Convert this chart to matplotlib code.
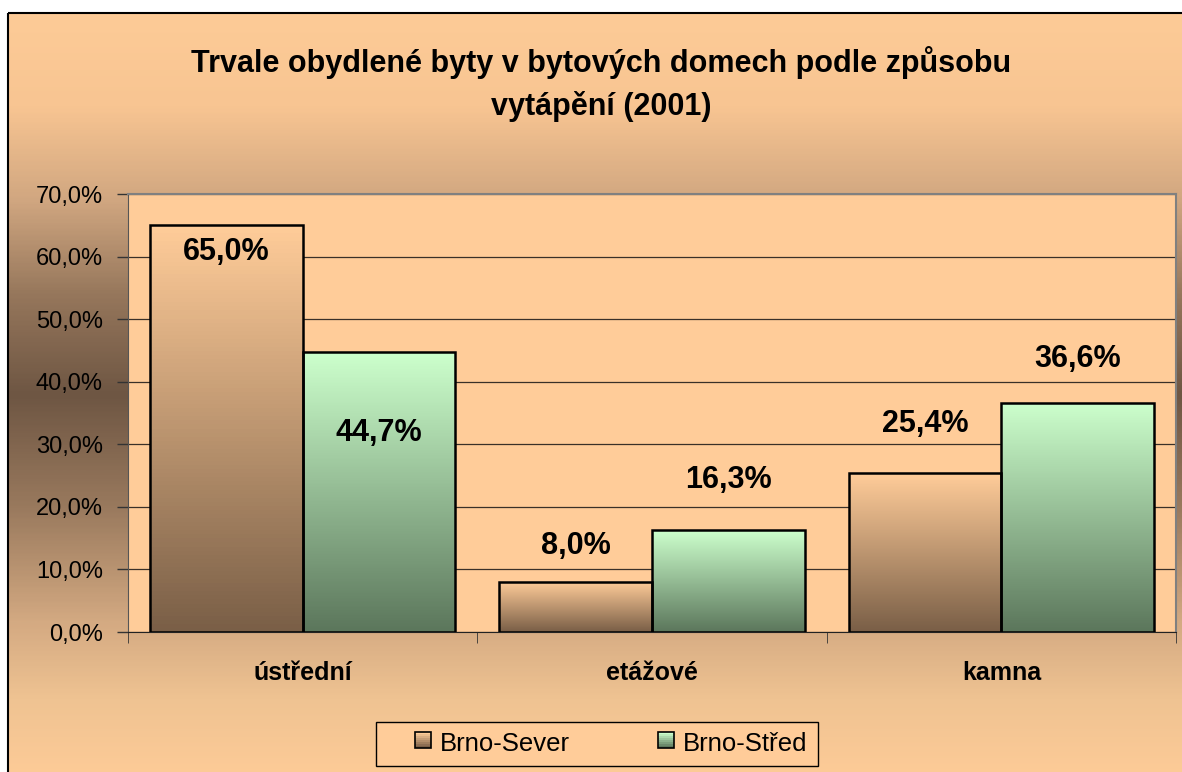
import numpy as np
import matplotlib.pyplot as plt
from matplotlib.colors import LinearSegmentedColormap
from matplotlib.legend_handler import HandlerBase
from matplotlib.patches import Rectangle

plt.rcParams['font.family'] = ['Liberation Sans', 'DejaVu Sans']

# data
kategorie = ["ústřední", "etážové", "kamna"]
serie = ["Brno-Sever", "Brno-Střed"]
brno_sever = [65.0, 8.0, 25.4]
brno_stred = [44.7, 16.3, 36.6]
osa_y = [0, 10, 20, 30, 40, 50, 60, 70]
titulek = "Trvale obydlené byty v bytových domech podle způsobu\nvytápění (2001)"

# barvy prechodu (nahore, dole)
barvy = [("#FFCC99", "#7A5F47"), ("#CCFFCC", "#5C775C")]
# posun popisku od vrcholu sloupce v bodech
posun = [[-19, 26, 35], [-58, 36, 32]]

W, H = 1182, 772
fig = plt.figure(figsize=(W / 100, H / 100), dpi=100)

# pozadi grafu s prechodem
bg = fig.add_axes([0, 0, 1, 1], zorder=-10)
bg.axis('off')
stops = [(0.0, "#FDCB97"), (0.12, "#F8C592"), (0.245, "#D0A680"),
         (0.37, "#95765B"), (0.50, "#6E5643"), (0.65, "#9A7A5E"),
         (0.80, "#D4AA82"), (0.90, "#EFC392"), (1.0, "#FDCB97")]
cm_bg = LinearSegmentedColormap.from_list("pozadi", stops)
grad = np.linspace(0, 1, 400).reshape(-1, 1)
bg.imshow(grad, cmap=cm_bg, aspect='auto', extent=[8, W + 5, H + 5, 13])
bg.add_patch(Rectangle((8, 13), W, H, fill=False, edgecolor='black', lw=1.5))
bg.set_xlim(0, W)
bg.set_ylim(H, 0)

fig.text(601 / W, 1 - 84 / H, titulek, ha='center', va='center',
         fontsize=22, fontweight='bold', linespacing=1.5)

ax = fig.add_axes([128 / W, 1 - 632 / H, 1048 / W, 438 / H])
ax.set_facecolor("#FFCC99")

x = np.arange(len(kategorie))
sirka = 0.437
for i, hodnoty in enumerate([brno_sever, brno_stred]):
    xs = x + (i - 0.5) * sirka
    bars = ax.bar(xs, hodnoty, width=sirka, facecolor='none', edgecolor='black',
                  linewidth=1.8, zorder=4)
    cm = LinearSegmentedColormap.from_list("s%d" % i, [barvy[i][1], barvy[i][0]])
    for b, v, p in zip(bars, hodnoty, posun[i]):
        x0 = b.get_x()
        im = ax.imshow(np.linspace(0, 1, 100).reshape(-1, 1), cmap=cm, aspect='auto',
                       extent=[x0, x0 + sirka, 0, v], origin='lower', zorder=3)
        im.set_clip_path(b)
        ax.annotate(("%.1f%%" % v).replace('.', ','), (b.get_x() + sirka / 2, v),
                    xytext=(0, p), textcoords='offset points', ha='center', va='center',
                    fontsize=22, fontweight='bold', zorder=5)

ax.set_xlim(-0.5, len(kategorie) - 0.5)
ax.set_ylim(0, 70)
ax.set_yticks(osa_y)
ax.set_yticklabels([("%.1f%%" % v).replace('.', ',') for v in osa_y], fontsize=17)
ax.yaxis.grid(True, color='#3a3028', linewidth=0.9)
ax.set_axisbelow(True)
ax.set_xticks(x)
ax.set_xticklabels(kategorie, fontsize=18, fontweight='bold')
ax.tick_params(axis='x', length=0, pad=21)
ax.set_xticks(np.arange(-0.5, len(kategorie)), minor=True)
ax.tick_params(axis='x', which='minor', length=8, color='#333333')
ax.tick_params(axis='y', length=8, width=1, pad=10, color='#333333')
for s in ['top', 'right']:
    ax.spines[s].set_color('#808080')
    ax.spines[s].set_linewidth(1.5)
ax.spines['left'].set_color('#555555')
ax.spines['bottom'].set_color('#222222')


class GradHandler(HandlerBase):
    def __init__(self, top, bottom):
        super().__init__()
        self.top, self.bottom = top, bottom

    def create_artists(self, legend, orig, xd, yd, w, h, fontsize, trans):
        cm = LinearSegmentedColormap.from_list("l", [self.bottom, self.top])
        s = 0.62 * fontsize
        x0 = xd + w - s
        y0 = yd + (h - s) / 2
        n = 8
        arts = []
        for k in range(n):
            arts.append(Rectangle((x0, y0 + s * k / n), s, s / n, facecolor=cm(k / (n - 1)),
                                  edgecolor='none', transform=trans))
        arts.append(Rectangle((x0, y0), s, s, fill=False, edgecolor='black', lw=1.2,
                              transform=trans))
        return arts


h1 = Rectangle((0, 0), 1, 1)
h2 = Rectangle((0, 0), 1, 1)
leg = fig.legend([h1, h2], serie, loc='center', bbox_to_anchor=(597 / W, 1 - 744 / H),
                 ncol=2, fontsize=18.5, frameon=True, fancybox=False, edgecolor='black',
                 facecolor='#FFCC99', framealpha=1, handlelength=1.75, handleheight=0.8,
                 handletextpad=0.35, columnspacing=2.3, borderpad=0.4,
                 handler_map={h1: GradHandler(*barvy[0]), h2: GradHandler(*barvy[1])})
leg.get_frame().set_linewidth(1.0)

fig.savefig("out.png", dpi=100)
